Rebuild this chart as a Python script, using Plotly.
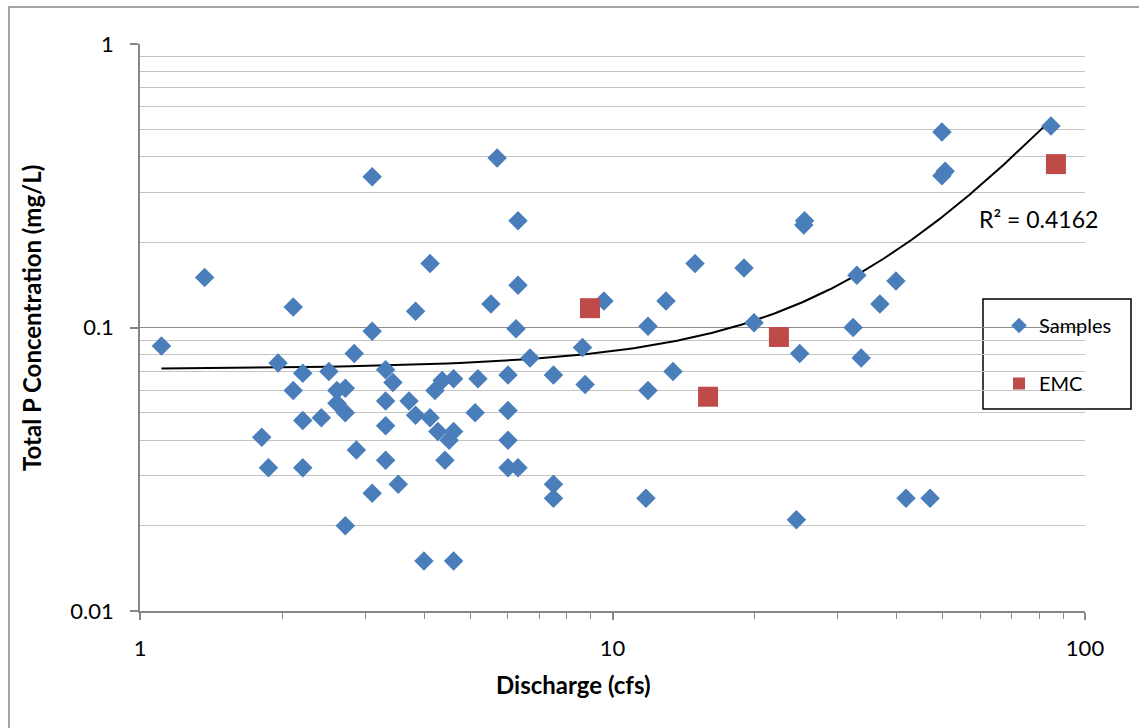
import numpy as np
import plotly.graph_objects as go

# ---- data ----
sample_q = [1.11, 1.37, 1.81, 1.87, 1.96, 2.11, 2.11, 2.21, 2.21, 2.21,
            2.42, 2.51, 2.61, 2.72, 2.61, 2.72, 2.84, 3.10, 2.87, 3.10,
            2.72, 3.10, 3.31, 3.43, 4.36, 4.61, 5.19, 6.01, 7.50, 8.75,
            4.21, 3.31, 3.71, 3.83, 4.11, 5.12, 6.01, 3.31, 4.27, 4.61,
            4.51, 6.01, 3.31, 4.42, 6.01, 6.31, 3.52, 7.50, 7.50, 3.99,
            4.61, 5.70, 6.31, 4.11, 6.31, 5.53, 3.83, 9.59, 6.25, 8.64,
            6.69, 25.4, 25.5, 14.95, 18.98, 32.9, 39.8, 12.98, 36.8, 11.89,
            19.93, 32.3, 24.9, 33.6, 13.43, 11.89, 11.77, 24.5, 84.7, 49.8,
            49.8, 50.6, 41.8, 47.0]
sample_tp = [0.086, 0.150, 0.041, 0.032, 0.075, 0.118, 0.060, 0.069, 0.047, 0.032,
             0.048, 0.070, 0.060, 0.061, 0.054, 0.050, 0.081, 0.097, 0.037, 0.026,
             0.020, 0.340, 0.071, 0.064, 0.065, 0.066, 0.066, 0.068, 0.068, 0.063,
             0.060, 0.055, 0.055, 0.049, 0.048, 0.050, 0.051, 0.045, 0.043, 0.043,
             0.040, 0.040, 0.034, 0.034, 0.032, 0.032, 0.028, 0.028, 0.025, 0.015,
             0.015, 0.396, 0.238, 0.168, 0.141, 0.121, 0.114, 0.124, 0.099, 0.085,
             0.078, 0.230, 0.238, 0.168, 0.162, 0.153, 0.146, 0.124, 0.121, 0.101,
             0.104, 0.100, 0.081, 0.078, 0.070, 0.060, 0.025, 0.021, 0.514, 0.489,
             0.343, 0.356, 0.025, 0.025]

emc_q = [8.96, 15.93, 22.5, 86.8]
emc_tp = [0.117, 0.057, 0.0926, 0.377]

r2_label = "R² = 0.4162"
x_ticks = [1, 10, 100]
x_ticktext = ["1", "10", "100"]
y_ticks = [0.01, 0.1, 1]
y_ticktext = ["0.01", "0.1", "1"]
minor_vals = [m * d for d in (0.01, 0.1, 1, 10) for m in range(2, 10)]

# ---- 2nd-order polynomial trendline fitted to the samples ----
qa = np.array(sample_q)
ta = np.array(sample_tp)
coef = np.polyfit(qa, ta, 2)
q_line = np.linspace(qa.min(), qa.max(), 300)
tp_line = np.polyval(coef, q_line)

FONT = "Lato"
BLUE = "#4A7EBB"
RED = "#BE4B48"

fig = go.Figure()
fig.add_trace(go.Scatter(x=q_line, y=tp_line, mode="lines",
                         line=dict(color="black", width=2),
                         showlegend=False, hoverinfo="skip"))
fig.add_trace(go.Scatter(x=sample_q, y=sample_tp, mode="markers", name="Samples",
                         legendgroup="s",
                         marker=dict(symbol="diamond", size=15, color=BLUE,
                                     line=dict(width=0))))
fig.add_trace(go.Scatter(x=emc_q, y=emc_tp, mode="markers", name="EMC",
                         legendgroup="e",
                         marker=dict(symbol="square", size=20, color=RED,
                                     line=dict(width=0))))

L, T, W, H = 140, 44, 945, 567


def px_x(p):
    return (p - L) / W


def px_y(p):
    return (T + H - p) / H


fig.update_layout(
    width=1139, height=728,
    margin=dict(l=L, r=1139 - L - W, t=T, b=728 - T - H),
    paper_bgcolor="white", plot_bgcolor="white",
    font=dict(family=FONT, color="black"),
    showlegend=True,
    legend=dict(x=px_x(999), y=px_y(306), xanchor="left", yanchor="top",
                bgcolor="rgba(0,0,0,0)", borderwidth=0,
                font=dict(family=FONT, size=20, color="black"),
                itemsizing="constant", tracegroupgap=29),
    xaxis=dict(type="log", range=[0, 2], tickmode="array",
               tickvals=x_ticks, ticktext=x_ticktext,
               showgrid=False, zeroline=False,
               showline=True, linecolor="#868686", linewidth=1.5,
               ticks="outside", ticklen=7, tickcolor="#868686", tickwidth=1.5,
               ticklabelstandoff=10,
               tickfont=dict(family=FONT, size=22, color="black"),
               minor=dict(tickmode="array", tickvals=minor_vals, ticks="outside",
                          ticklen=6, tickcolor="#868686", tickwidth=1.2,
                          showgrid=False)),
    yaxis=dict(type="log", range=[-2, 0], tickmode="array",
               tickvals=y_ticks, ticktext=y_ticktext,
               showgrid=True, gridcolor="#8C8C8C", gridwidth=1.4,
               zeroline=False,
               showline=True, linecolor="#868686", linewidth=1.5,
               ticks="outside", ticklen=8, tickcolor="#868686", tickwidth=1.5,
               ticklabelstandoff=12,
               tickfont=dict(family=FONT, size=22, color="black"),
               minor=dict(tickmode="array", tickvals=minor_vals, ticks="",
                          showgrid=True, gridcolor="#C4C4C4", gridwidth=1.4)),
    shapes=[
        # outer chart border
        dict(type="rect", xref="paper", yref="paper",
             x0=px_x(9), x1=px_x(1145), y0=px_y(735), y1=px_y(7),
             line=dict(color="#868686", width=1.5), fillcolor="rgba(0,0,0,0)",
             layer="below"),
        # legend frame
        dict(type="rect", xref="paper", yref="paper",
             x0=px_x(983), x1=px_x(1131), y0=px_y(409), y1=px_y(299),
             line=dict(color="black", width=1.5), fillcolor="white",
             layer="below"),
    ],
    annotations=[
        dict(text=r2_label, xref="paper", yref="paper",
             x=px_x(977), y=px_y(219), xanchor="left", yanchor="middle",
             showarrow=False, font=dict(family=FONT, size=23, color="black")),
        dict(text="<b>Discharge (cfs)</b>", xref="paper", yref="paper",
             x=px_x(573), y=px_y(684), xanchor="center", yanchor="middle",
             showarrow=False, font=dict(family=FONT, size=24, color="black")),
        dict(text="<b>Total P Concentration (mg/L)</b>", xref="paper", yref="paper",
             x=px_x(31), y=px_y(318), xanchor="center", yanchor="middle",
             textangle=-90,
             showarrow=False, font=dict(family=FONT, size=24, color="black")),
    ],
)

fig.write_html("out.html")
